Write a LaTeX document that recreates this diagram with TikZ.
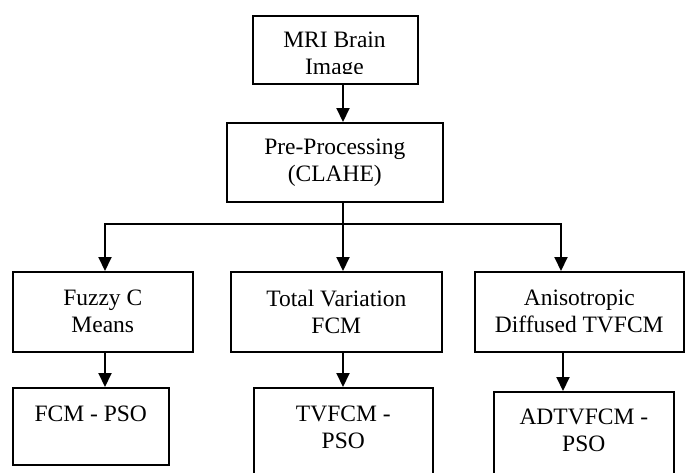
\documentclass[tikz,border=0pt]{standalone}
\usepackage{fontspec}
\setmainfont{Liberation Serif}
\usetikzlibrary{arrows.meta, positioning}
\tikzset{
    stage/.style={draw, line width=1.6pt, align=center, anchor=north west, inner sep=2pt,
        font=\fontsize{23.5}{27}\selectfont},
    flow/.style={line width=2pt, -{Triangle[width=13pt,length=14pt]}},
    branch/.style={line width=2pt, line cap=rect}
}

\begin{document}
\begin{tikzpicture}[x=1pt, y=-1pt]
    \path[use as bounding box, clip] (0,0) rectangle (686,472);
    % boxes, placed by top left corner
    \node[stage, minimum width=165pt, minimum height=68pt] (mri) at (252,15) {};
    \begin{scope}
        % second line is cut by the box margin
        \clip (252,15) rectangle (417,73);
        \node[stage, draw=none, anchor=north, inner sep=0pt] (mritext) at (334.5,31) {MRI Brain\\Image};
    \end{scope}
    \node[stage, minimum width=216pt, minimum height=79pt] (pre) at (226,122) {Pre-Processing\\(CLAHE)};
    \node[stage, minimum width=180pt, minimum height=80pt] (fcm) at (12,271) {Fuzzy C\\Means};
    \node[stage, minimum width=211pt, minimum height=80pt] (tv) at (230,271) {Total Variation\\FCM};
    \node[stage, minimum width=209pt, minimum height=80pt] (ad) at (474,271) {Anisotropic\\Diffused TVFCM};
    \node[stage, minimum width=156pt, minimum height=77pt] (fcmpso) at (12,387) {FCM - PSO\\[-10pt]\strut};
    \node[stage, minimum width=179pt, minimum height=105pt] (tvpso) at (253,387) {TVFCM -\\PSO\\[-8pt]\strut};
    \node[stage, minimum width=180pt, minimum height=105pt] (adpso) at (493,391) {ADTVFCM -\\PSO\\[-6pt]\strut};
    % branching
    \coordinate (trunk) at (343,224);
    \coordinate (lft) at (105,224);
    \coordinate (rgt) at (561,224);
    \coordinate (adx) at (563,0);
    \draw[flow] (mri.south -| trunk) -- (pre.north -| trunk);
    \draw[branch] (pre.south -| trunk) -- (trunk);
    \draw[branch] (lft) -- (rgt);
    \draw[flow] (lft) -- (lft |- fcm.north);
    \draw[flow] (trunk) -- (tv.north -| trunk);
    \draw[flow] (rgt) -- (rgt |- ad.north);
    \draw[flow] (fcm.south -| lft) -- (fcmpso.north -| lft);
    \draw[flow] (tv.south -| trunk) -- (tvpso.north -| trunk);
    \draw[flow] (ad.south -| adx) -- (adpso.north -| adx);
\end{tikzpicture}
\end{document}
